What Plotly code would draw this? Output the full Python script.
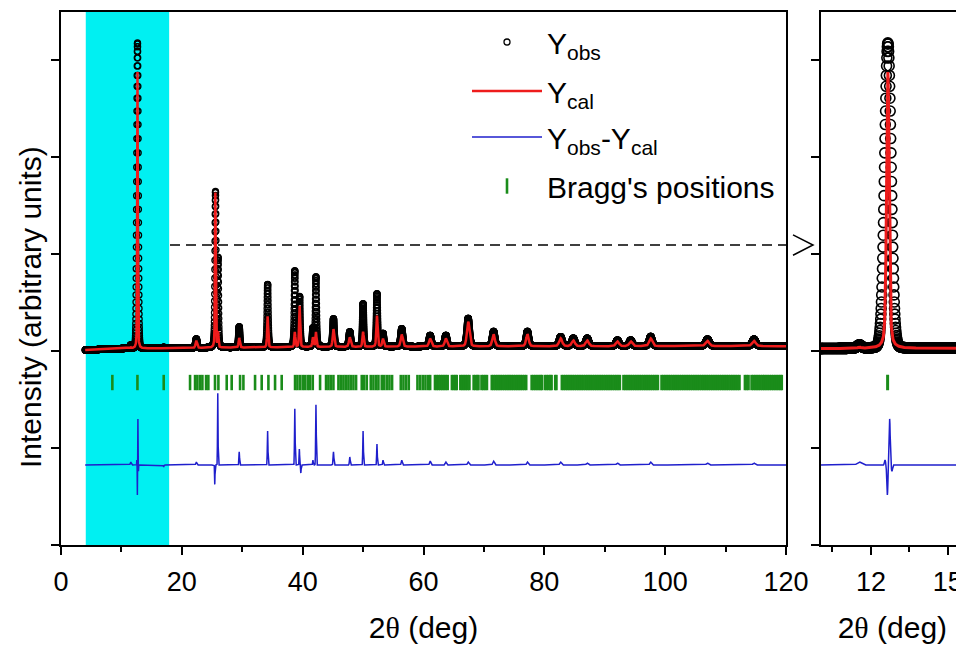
import numpy as np
import plotly.graph_objects as go

# ---------------- data ----------------
# measurement grid (2theta, deg)
two_theta = np.round(np.arange(4.0, 120.0001, 0.01), 2)

# reflections: position, observed height / width, calculated position / height / width
peak_pos = [11.55, 12.66, 17.0, 22.4, 25.57, 26.0, 29.5, 34.2, 38.7, 39.5, 41.7, 42.2,
            45.1, 47.8, 50.0, 52.3, 53.3, 56.4, 61.1, 63.7, 67.4, 71.6, 77.2, 82.7,
            84.8, 87.1, 92.1, 94.3, 97.6, 107.0, 114.7]
obs_height = [70, 6300, 20, 185, 3200, 1810, 430, 1300, 1570, 1030, 370, 1440,
              580, 310, 890, 1090, 270, 370, 230, 230, 580, 310, 310, 200,
              165, 165, 125, 125, 200, 145, 145]
obs_fwhm = [0.2, 0.3, 0.15, 0.3, 0.22, 0.18, 0.25, 0.22, 0.22, 0.22, 0.25, 0.22,
            0.3, 0.35, 0.25, 0.25, 0.3, 0.4, 0.45, 0.45, 0.5, 0.5, 0.5, 0.6,
            0.6, 0.6, 0.6, 0.6, 0.6, 0.7, 0.7]
obs_eta = [0.4, 0.05, 0.4, 0.4, 0.3, 0.3, 0.4, 0.4, 0.4, 0.4, 0.4, 0.4,
           0.4, 0.4, 0.4, 0.4, 0.4, 0.4, 0.4, 0.4, 0.4, 0.4, 0.4, 0.4,
           0.4, 0.4, 0.4, 0.4, 0.4, 0.4, 0.4]
calc_pos = [11.55, 12.66, 17.0, 22.4, 25.55, 26.0, 29.5, 34.2, 38.7, 39.5, 41.7, 42.2,
            45.1, 47.8, 50.0, 52.3, 53.3, 56.4, 61.1, 63.7, 67.4, 71.6, 77.2, 82.7,
            84.8, 87.1, 92.1, 94.3, 97.6, 107.0, 114.7]
calc_height = [20, 5700, 15, 150, 3200, 310, 200, 640, 310, 850, 200, 310,
               370, 200, 310, 640, 165, 250, 165, 165, 515, 250, 250, 165,
               120, 120, 100, 100, 160, 110, 110]
calc_fwhm = [0.15, 0.12, 0.12, 0.3, 0.15, 0.15, 0.25, 0.2, 0.2, 0.2, 0.25, 0.2,
             0.3, 0.35, 0.25, 0.25, 0.3, 0.4, 0.45, 0.45, 0.5, 0.5, 0.5, 0.6,
             0.6, 0.6, 0.6, 0.6, 0.6, 0.7, 0.7]

# difference-curve features: position, amplitude, width
diff_pos = [11.55, 12.55, 12.64, 12.73, 12.82, 17.0, 22.4, 25.45, 25.95, 29.5, 34.2,
            38.7, 39.45, 39.7, 41.7, 42.2, 45.1, 47.8, 50.0, 52.3, 53.3, 56.4, 61.1,
            63.7, 67.4, 71.6, 77.2, 82.7, 87.1, 92.1, 97.6, 107.0, 114.7]
diff_amp = [60, 100, -620, 950, -130, -40, 60, -400, 1480, 270, 700,
            1160, 330, -165, 100, 1240, 270, 165, 700, 430, 100, 100, 80,
            60, 60, 80, 60, 60, 40, 40, 60, 40, 40]
diff_width = [0.2, 0.05, 0.05, 0.05, 0.05, 0.1, 0.2, 0.08, 0.1, 0.12, 0.12,
              0.12, 0.1, 0.1, 0.12, 0.12, 0.15, 0.15, 0.12, 0.12, 0.15, 0.2, 0.25,
              0.25, 0.3, 0.3, 0.3, 0.35, 0.35, 0.35, 0.35, 0.4, 0.4]

# background levels
bg_angle = [4, 10, 20, 40, 60, 80, 100, 120]
bg_level = [20, 50, 60, 80, 90, 95, 100, 100]

diff_offset = -2350     # level of the Yobs-Ycal curve
bragg_level = -650      # level of Bragg ticks

bragg_pos = [
    8.5, 12.65, 17.0, 21.36, 22.19, 22.57, 23.01, 23.40, 24.01, 24.39, 25.49, 26.05,
    27.43, 28.25, 29.64, 30.19, 32.12, 33.22, 34.33, 35.43, 36.53,
    38.74, 39.13, 39.57, 40.01, 40.40, 40.84, 41.22, 41.67, 42.88,
    43.87, 44.26, 44.65, 45.09, 45.92, 46.30, 46.74, 47.13, 47.57, 47.96, 48.40, 48.84,
    49.78, 50.17, 50.61, 51.27, 51.71, 52.15, 52.54, 53.09, 53.48, 53.92, 54.36, 54.80,
    56.24, 56.68, 57.12, 57.56, 59.00, 59.44, 59.88, 60.32, 60.76, 61.10,
    61.9, 62.2, 62.5, 62.8, 63.1, 63.4, 63.7, 64.0,
    64.7, 65.0, 65.3, 65.5,
    66.1, 66.4, 66.7, 67.0, 67.3, 67.6,
    68.3, 68.6, 68.9, 69.1,
    69.6, 69.9, 70.2, 70.5,
    71.3, 71.6, 71.9, 72.2, 72.5, 72.8, 73.1, 73.4, 73.7, 74.0, 74.3, 74.6, 74.9,
    75.2, 75.5, 75.8, 76.1, 76.4, 76.7, 77.0,
    77.9, 78.2, 78.5, 78.8, 79.1, 79.4, 79.6,
    80.1, 80.4, 80.7, 81.0, 81.2,
    81.8, 82.0,
    82.9, 83.2, 83.5, 83.8, 84.1, 84.4, 84.7, 85.0, 85.3, 85.6, 85.9, 86.2, 86.5,
    86.8, 87.1, 87.4, 87.7, 88.0, 88.3, 88.6, 88.9, 89.2, 89.5, 89.8, 90.1, 90.4,
    90.7, 91.0, 91.3, 91.6, 91.9, 92.2, 92.5,
    93.1, 93.4, 93.7, 94.0, 94.3, 94.6, 94.9, 95.2, 95.5, 95.8, 96.1, 96.4, 96.7,
    97.0, 97.3, 97.6, 97.9, 98.2, 98.5, 98.8,
    99.4, 99.7, 100.0, 100.3, 100.6, 100.9, 101.2, 101.5, 101.8, 102.1, 102.4, 102.7,
    103.0, 103.3, 103.6, 103.9, 104.2, 104.5, 104.8, 105.1, 105.4, 105.7, 106.0,
    106.3, 106.6, 106.9, 107.2, 107.5, 107.8, 108.1, 108.4, 108.7, 109.0, 109.3,
    109.6, 109.9, 110.2, 110.5, 110.8, 111.1, 111.4, 111.7, 112.0, 112.3,
    113.2, 113.5, 113.8,
    114.3, 114.6, 114.9, 115.2, 115.5, 115.8, 116.1, 116.4, 116.7, 117.0, 117.3,
    117.6, 117.9, 118.2, 118.5, 118.8, 119.1, 119.3,
]

tick_vals_main = [0, 20, 40, 60, 80, 100, 120]
tick_vals_zoom = [12, 15]
minor_zoom = [10.5, 13.5]

# ---------------- build profiles ----------------
def pseudo_voigt(x, pos, h, w, eta=0.4):
    d = (x - pos) / w
    g = np.exp(-4 * np.log(2) * d ** 2)
    lor = 1.0 / (1.0 + 4 * d ** 2)
    return h * (eta * lor + (1 - eta) * g)

background = np.interp(two_theta, bg_angle, bg_level)
y_obs = background.copy()
y_cal = background.copy()
for p, h, w, e in zip(peak_pos, obs_height, obs_fwhm, obs_eta):
    y_obs += pseudo_voigt(two_theta, p, h, w, e)
for p, h, w in zip(calc_pos, calc_height, calc_fwhm):
    y_cal += pseudo_voigt(two_theta, p, h, w)
y_diff = np.full_like(two_theta, float(diff_offset))
for p, a, w in zip(diff_pos, diff_amp, diff_width):
    y_diff += pseudo_voigt(two_theta, p, a, w, eta=0.0)
bragg_y = [bragg_level] * len(bragg_pos)

zoom_mask = (two_theta >= 9.9) & (two_theta <= 15.8)
bragg_zoom = [b for b in bragg_pos if 9.9 <= b <= 15.8]

# ---------------- styling ----------------
FONT = "Liberation Sans, Arial, sans-serif"
RED = "#ee1c1c"
BLUE = "#1f1fcc"
GREEN = "#1a8c1a"
CYAN = "#00f0f2"

# page body has an 8px margin: figure is laid out in (reference px - 8)
OFF = 8
W, H = 964 - OFF, 645 - OFF
ML, MR, MT, MB = 61 - OFF, 0, 12 - OFF, 100
PW = W - ML - MR
PH = H - MT - MB

def px2paper(px):
    return (px - OFF - ML) / PW

def py2paper(py):
    return 1 - (py - OFF - MT) / PH

fig = go.Figure()

# main panel
fig.add_trace(go.Scatter(
    x=two_theta, y=y_obs, mode="markers", name="Y<sub>obs</sub>", legend="legend",
    marker=dict(symbol="circle-open", size=6, color="black", line=dict(width=1.3)),
    xaxis="x", yaxis="y"))
fig.add_trace(go.Scatter(
    x=two_theta, y=y_cal, mode="lines", name="Y<sub>cal</sub>", legend="legend2",
    line=dict(color=RED, width=2.5), xaxis="x", yaxis="y"))
fig.add_trace(go.Scatter(
    x=two_theta, y=y_diff, mode="lines", name="Y<sub>obs</sub>-Y<sub>cal</sub>",
    legend="legend3", line=dict(color=BLUE, width=1.5), xaxis="x", yaxis="y"))
fig.add_trace(go.Scatter(
    x=bragg_pos, y=bragg_y, mode="markers", name="Bragg's positions", legend="legend4",
    marker=dict(symbol="line-ns-open", size=11, color=GREEN, line=dict(width=2.6, color=GREEN)),
    xaxis="x", yaxis="y"))

# zoom panel
fig.add_trace(go.Scatter(
    x=two_theta[zoom_mask], y=y_obs[zoom_mask], mode="markers", showlegend=False,
    marker=dict(symbol="circle-open", size=10, color="black", line=dict(width=1.6)),
    xaxis="x2", yaxis="y2"))
fig.add_trace(go.Scatter(
    x=two_theta[zoom_mask], y=y_cal[zoom_mask], mode="lines", showlegend=False,
    line=dict(color=RED, width=3), xaxis="x2", yaxis="y2"))
fig.add_trace(go.Scatter(
    x=two_theta[zoom_mask], y=y_diff[zoom_mask], mode="lines", showlegend=False,
    line=dict(color=BLUE, width=1.5), xaxis="x2", yaxis="y2"))
fig.add_trace(go.Scatter(
    x=bragg_zoom, y=[bragg_level] * len(bragg_zoom), mode="markers", showlegend=False,
    marker=dict(symbol="line-ns-open", size=11, color=GREEN, line=dict(width=3, color=GREEN)),
    xaxis="x2", yaxis="y2"))

YR = [-4000, 6990]
axis_common = dict(showline=True, linecolor="black", linewidth=1.5, ticks="outside",
                   tickcolor="black", tickwidth=1.5, showgrid=False, zeroline=False,
                   automargin=False,
                   tickfont=dict(family=FONT, size=27, color="black"))

title_txt = "2<span style='font-family:Liberation Serif'>θ</span> (deg)"

def legend_at(ref_y):
    return dict(x=px2paper(467), y=py2paper(ref_y), xanchor="left", yanchor="middle",
                bgcolor="rgba(0,0,0,0)", itemwidth=70,
                font=dict(family=FONT, size=30, color="black"))

fig.update_layout(
    width=W, height=H, margin=dict(l=ML, r=MR, t=MT, b=MB, autoexpand=False),
    plot_bgcolor="white", paper_bgcolor="white",
    font=dict(family=FONT, color="black"),
    xaxis=dict(domain=[0, px2paper(786)], range=[0, 120], tickvals=tick_vals_main,
               ticklen=8, mirror=True, ticklabelstandoff=4,
               minor=dict(dtick=10, ticklen=5, ticks="outside", tickcolor="black", tickwidth=1.5),
               title=dict(text=title_txt, font=dict(family=FONT, size=30), standoff=21),
               **axis_common),
    yaxis=dict(domain=[0, 1], range=YR, dtick=2000, tick0=0, ticklen=8, mirror=True,
               showticklabels=False, **axis_common),
    xaxis2=dict(domain=[px2paper(820.7), 1], range=[10.04, 15.63], anchor="y2",
                tickvals=tick_vals_zoom, ticklen=8, mirror=True, ticklabelstandoff=4,
                minor=dict(tickvals=minor_zoom, ticklen=5, ticks="outside",
                           tickcolor="black", tickwidth=1.5),
                title=dict(text=title_txt, font=dict(family=FONT, size=30), standoff=21),
                **axis_common),
    yaxis2=dict(domain=[0, 1], range=YR, dtick=2000, tick0=0, ticklen=8, anchor="x2",
                showticklabels=False, **axis_common),
    legend=legend_at(42),
    legend2=legend_at(91),
    legend3=legend_at(137),
    legend4=legend_at(186),
    showlegend=True,
)

# y-axis title
fig.add_annotation(text="Intensity (arbitrary units)", textangle=-90, xref="paper", yref="paper",
                   x=px2paper(30), y=py2paper(307), xanchor="center", yanchor="middle",
                   showarrow=False, font=dict(family=FONT, size=30, color="black"))

# cyan highlighted region
fig.add_shape(type="rect", xref="x", yref="y domain", x0=4.1, x1=17.9, y0=0, y1=1,
              fillcolor=CYAN, line=dict(width=0), layer="below")
# dashed pointer and arrow head to the zoom panel
DASH_Y = 2185
fig.add_shape(type="line", xref="paper", yref="y", x0=px2paper(170), x1=px2paper(791),
              y0=DASH_Y, y1=DASH_Y, line=dict(color="black", width=1.5, dash="10px,6px"))
fig.add_shape(type="path", xref="paper", yref="y",
              path=f"M {px2paper(793)},{DASH_Y + 210} L {px2paper(813)},{DASH_Y} L {px2paper(793)},{DASH_Y - 210}",
              line=dict(color="black", width=1.5))

fig.write_html("out.html")
